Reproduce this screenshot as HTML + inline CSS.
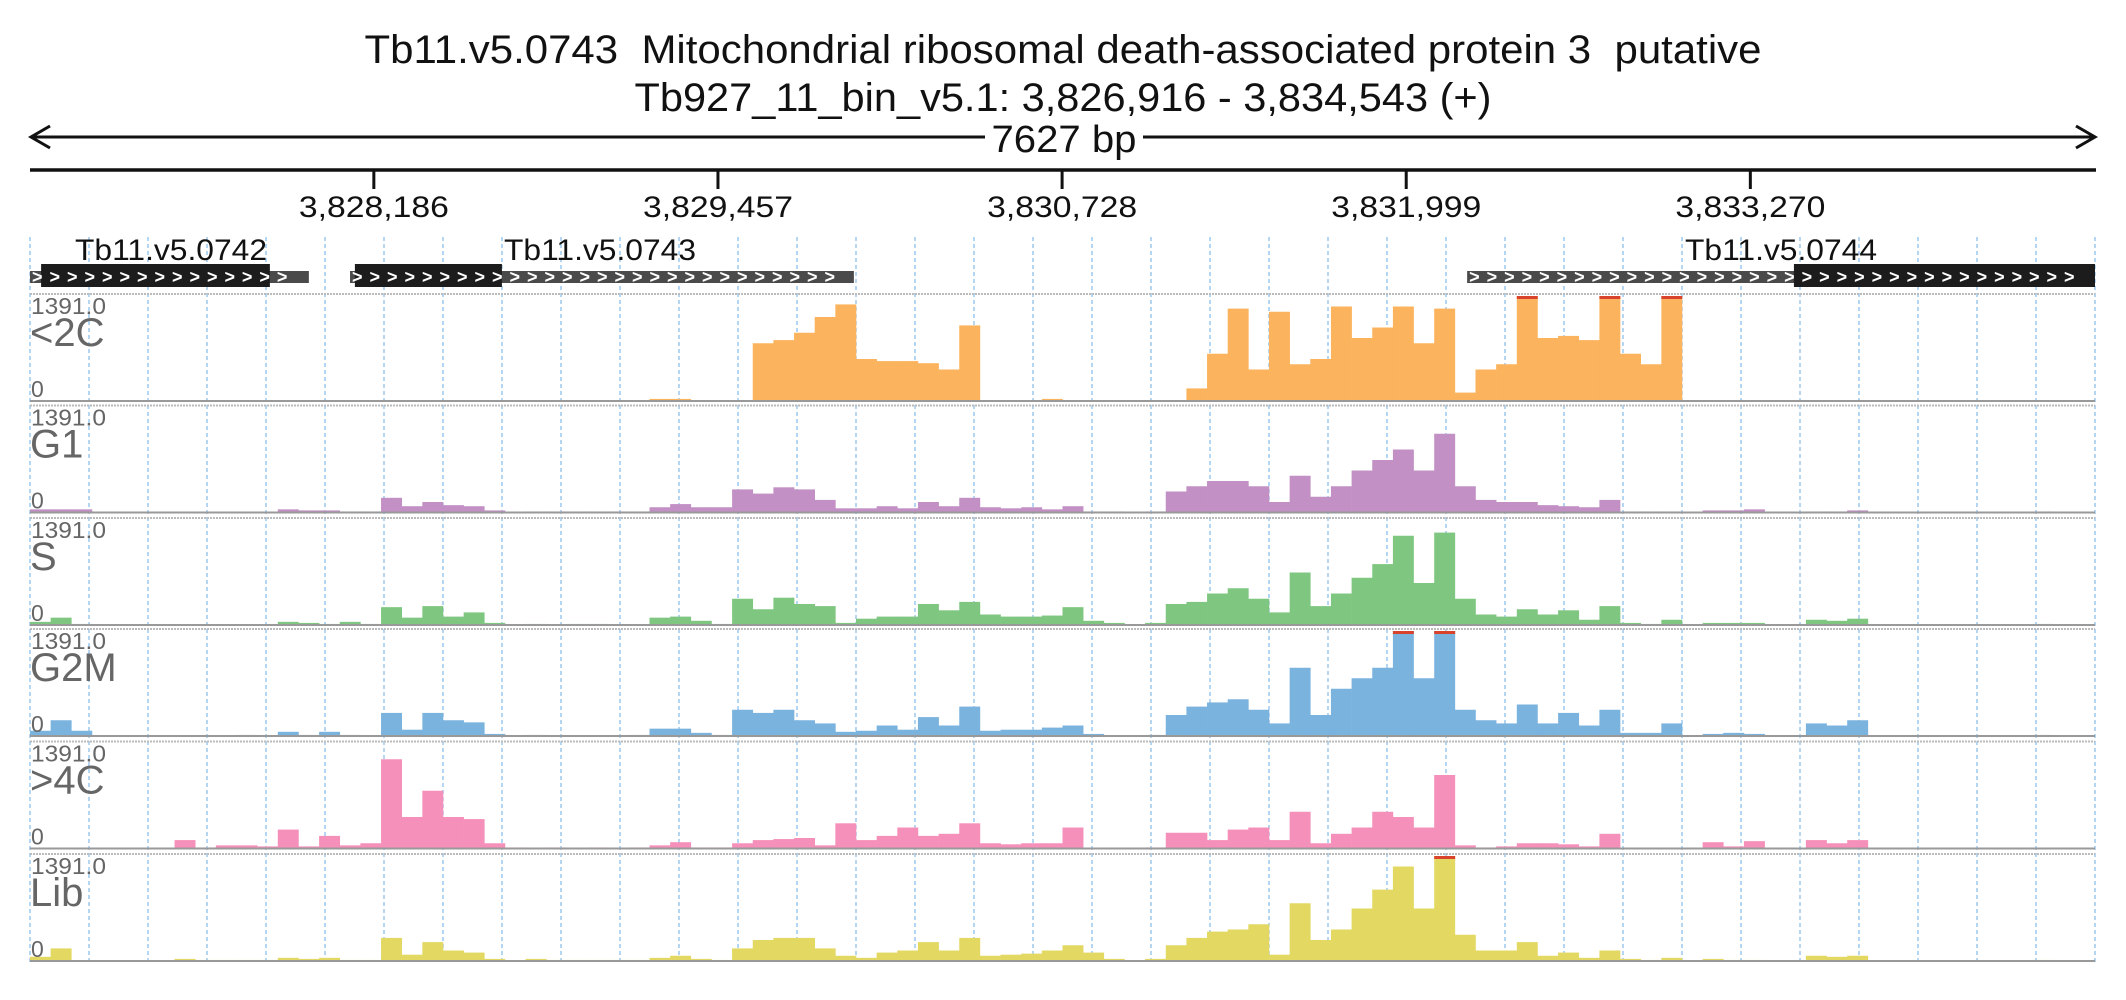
<!DOCTYPE html>
<html><head><meta charset="utf-8"><style>
html,body{margin:0;padding:0;background:#fff;}
svg{display:block;font-family:"Liberation Sans",sans-serif;}
</style></head><body>
<svg id="chart" width="2126" height="1000" viewBox="0 0 2126 1000">
<text x="1063" y="63" font-size="40" text-anchor="middle" fill="#111" textLength="1397" lengthAdjust="spacingAndGlyphs" style="white-space:pre">Tb11.v5.0743  Mitochondrial ribosomal death-associated protein 3  putative</text>
<text x="1063" y="111" font-size="40" text-anchor="middle" fill="#111" textLength="857" lengthAdjust="spacingAndGlyphs">Tb927_11_bin_v5.1: 3,826,916 - 3,834,543 (+)</text>
<g>
<line x1="32" y1="137" x2="2094" y2="137" stroke="#111" stroke-width="3"/>
<polyline points="50,126 31,137 50,148" fill="none" stroke="#111" stroke-width="3"/>
<polyline points="2076,126 2095,137 2076,148" fill="none" stroke="#111" stroke-width="3"/>
<rect x="985" y="120" width="158" height="36" fill="#fff"/>
<text x="1064" y="152" font-size="38" text-anchor="middle" fill="#111" textLength="145" lengthAdjust="spacingAndGlyphs">7627 bp</text>
</g>
<line x1="30" y1="170" x2="2096" y2="170" stroke="#111" stroke-width="3.5"/>
<g id="ticks"></g>
<g id="grid"></g>
<g id="genes"></g>
<g id="tracks"></g>
</svg>
<script>
const NS="http://www.w3.org/2000/svg";
const startBp=3826916, endBp=3834543;
const tickValues=[3828186,3829457,3830728,3831999,3833270];
const tickLabels=["3,828,186","3,829,457","3,830,728","3,831,999","3,833,270"];
const geneNames=["Tb11.v5.0742","Tb11.v5.0743","Tb11.v5.0744"];
const geneStarts=[3826916,3828098,3832224];
const geneEnds=[3827946,3829959,3834543];
const cdsStarts=[3826957,3828116,3833431];
const cdsEnds=[3827802,3828659,3834543];
const trackNames=["<2C","G1","S","G2M",">4C","Lib"];
const trackMaxLabel="1391.0";
const trackColors=["#fbb35d","#c290c4","#7fc780","#7bb3df","#f590ba","#e2d862"];
// coverage per bin, percent of max (1391.0), 100 bins across region
const cov2C=[0,0,0,0,0,0,0,0,0,0, 0,0,0,0,0,0,0,0,0,0, 0,0,0,0,0,0,0,0,0,0, 2,2,0,0,0,55,58,65,80,92, 40,38,38,36,30,72,0,0,0,2, 0,0,0,0,0,0,12,45,88,30, 85,35,40,90,60,70,90,55,88,8, 30,35,100,60,62,58,100,45,35,100, 0,0,0,0,0,0,0,0,0,0, 0,0,0,0,0,0,0,0,0,0];
const covG1=[3,3,3,0,0,0,0,0,0,0, 0,0,3,2,2,1,1,14,6,10, 7,6,2,0,1,1,1,1,1,1, 5,8,5,5,22,18,24,22,12,4, 4,6,4,10,6,14,5,4,5,3, 6,1,1,0,1,20,25,30,30,25, 10,35,15,25,40,50,60,40,75,25, 12,10,10,7,6,5,12,1,1,1, 0,2,2,3,0,0,1,1,2,0, 0,0,0,0,0,0,0,1,0,0];
const covS=[3,7,1,0,0,0,0,0,0,0, 0,0,3,2,1,3,1,17,7,18, 8,12,2,0,1,0,1,1,0,0, 7,8,4,1,25,15,26,20,18,2, 6,8,8,20,14,22,10,8,8,9, 17,4,2,0,2,20,22,30,35,25, 12,50,18,30,45,58,85,40,88,25, 10,8,15,10,14,5,18,2,1,5, 0,2,2,2,0,0,5,4,6,0, 0,0,0,0,0,0,0,1,0,0];
const covG2M=[5,15,5,0,0,0,0,0,0,0, 1,0,4,1,4,1,0,22,6,22, 15,13,2,0,1,0,0,0,0,1, 7,7,3,1,25,22,25,15,12,4, 5,10,6,18,10,28,5,6,6,8, 10,2,0,0,1,20,28,32,35,25, 12,65,20,45,55,65,100,55,100,25, 15,12,30,12,22,10,25,3,3,12, 0,2,3,2,0,0,12,10,15,0, 0,0,0,0,0,0,0,1,0,0];
const cov4C=[0,0,0,0,0,0,0,8,1,3, 3,2,18,2,12,3,5,85,30,55, 30,28,5,1,0,1,0,1,0,1, 3,6,1,1,5,8,9,10,3,24, 8,12,20,12,14,24,5,4,5,5, 20,0,0,0,1,15,15,8,18,20, 8,35,5,14,20,35,30,20,70,3, 1,2,5,5,4,2,14,0,0,0, 0,6,2,7,0,0,8,5,8,0, 0,0,0,0,0,0,0,0,0,0];
const covLib=[4,12,0,0,0,0,0,2,1,1, 1,1,3,2,3,1,1,22,6,18, 10,8,2,0,2,1,1,1,1,1, 3,5,2,1,12,20,22,22,12,5, 3,8,10,18,10,22,5,6,7,10, 15,8,2,0,2,15,22,28,30,35, 6,55,20,30,50,68,90,50,100,25, 10,10,18,5,8,3,10,2,1,3, 0,2,1,1,0,0,5,4,5,0, 0,0,0,0,0,0,0,1,0,0];
const allCov=[cov2C,covG1,covS,covG2M,cov4C,covLib];

const X0=30,X1=2095;
const xScale=bp=>X0+(bp-startBp)/(endBp-startBp)*(X1-X0);
function mk(tag,attrs,parent){const e=document.createElementNS(NS,tag);for(const k in attrs)e.setAttribute(k,attrs[k]);parent.appendChild(e);return e;}

const tg=document.getElementById('ticks');
tickValues.forEach((v,i)=>{
  const x=xScale(v);
  const l=mk('line',{x1:x,y1:170,x2:x,y2:189,stroke:'#111','stroke-width':3},tg);
  
  
  const t=mk('text',{x:x,y:217,'font-size':30,'text-anchor':'middle',fill:'#111',textLength:150,lengthAdjust:'spacingAndGlyphs'},tg);
  t.textContent=tickLabels[i];
  
  
});

const gg=document.getElementById('grid');
for(let x=X0;x<=X1+1;x+=59){
  const l=mk('line',{x1:x,y1:237,x2:x,y2:964,stroke:'#9cc8ee','stroke-width':1.5,'stroke-dasharray':'4,3'},gg);
  
  
}

const gn=document.getElementById('genes');
function chevrons(x1,x2,y,parent){
  const t=mk('text',{x:x1+2,y:y,'font-size':18,fill:'#fff','font-weight':'bold'},parent);
  let s='';const n=Math.floor((x2-x1-4)/17.5);for(let i=0;i<n;i++)s+='>\u2009\u2009';
  t.textContent=s;t.setAttribute('textLength',n*17.5);
  
  
}
const labelX=[75,504,1685];
geneNames.forEach((name,i)=>{
  const g=mk('g',{},gn);
  
  
  const gx1=xScale(geneStarts[i]),gx2=xScale(geneEnds[i]);
  const cx1=xScale(cdsStarts[i]),cx2=xScale(cdsEnds[i]);
  mk('rect',{x:gx1,y:271,width:gx2-gx1,height:12,fill:'#4a4a4a'},g);
  mk('rect',{x:cx1,y:264,width:cx2-cx1,height:23,fill:'#1c1c1c'},g);
  chevrons(gx1,gx2,283,g);
  const t=mk('text',{x:labelX[i],y:260,'font-size':30,fill:'#111',textLength:192,lengthAdjust:'spacingAndGlyphs'},g);
  t.textContent=name;
  
  
});

const tr=document.getElementById('tracks');
const tops=[294,405.5,518,629,741.5,854];
const H=107;
const nb=cov2C.length;
const bw=(X1-X0)/nb;
trackNames.forEach((name,ti)=>{
  const top=tops[ti],base=top+H;
  const g=mk('g',{},tr);
  
  
  const yS=v=>base-Math.min(v,100)/100*(H-2);
  mk('line',{x1:X0,y1:top,x2:X1,y2:top,stroke:'#bbb','stroke-width':2,'stroke-dasharray':'2,1'},g);
  allCov[ti].forEach((v,i)=>{
    if(v<=0)return;
    const y=yS(v);
    const r=mk('rect',{x:X0+i*bw,y:y,width:bw+0.3,height:base-y,fill:trackColors[ti]},g);
    
    
    if(v>=100){const c=mk('rect',{x:X0+i*bw,y:y,width:bw+0.3,height:3,fill:'#d9432c'},g);
      
      }
  });
  mk('line',{x1:X0,y1:base,x2:X1,y2:base,stroke:'#999','stroke-width':2},g);
  const m=mk('text',{x:31,y:top+20,'font-size':23,fill:'#666',textLength:75,lengthAdjust:'spacingAndGlyphs'},g);
  m.textContent=trackMaxLabel;
  
  
  const n=mk('text',{x:30,y:top+52,'font-size':40,fill:'#666'},g);
  n.textContent=name;
  
  
  const z=mk('text',{x:31,y:base-4,'font-size':23,fill:'#666'},g);
  z.textContent='0';
  
  
});
</script>
</body></html>
